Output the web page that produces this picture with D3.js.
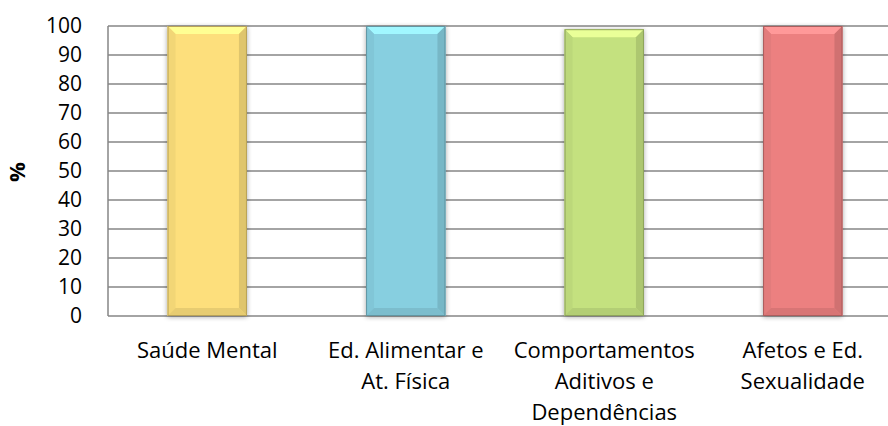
<!DOCTYPE html>
<html lang="pt">
<head>
<meta charset="utf-8">
<title>Bar chart</title>
<script src="https://d3js.org/d3.v7.min.js"></script>
<style>
  body { margin: 0; background: #fff; }
  text { font-family: "Open Sans", "Noto Sans", sans-serif; fill: #000; }
</style>
</head>
<body>
<script>
// data
var categories = ["Saúde Mental", "Ed. Alimentar e At. Física", "Comportamentos Aditivos e Dependências", "Afetos e Ed. Sexualidade"];
var labelLines = [["Saúde Mental"], ["Ed. Alimentar e", "At. Física"], ["Comportamentos", "Aditivos e", "Dependências"], ["Afetos e Ed.", "Sexualidade"]];
var values = [100, 100, 98.9, 100];
var barColors = ["#fddf7b", "#87cfe0", "#c4e17f", "#ec8080"];
var yTicks = [0, 10, 20, 30, 40, 50, 60, 70, 80, 90, 100];

var width = 888, height = 426;
var mLeft = 108, mRight = 902, mTop = 26, mBottom = 316;

var svg = d3.select("body").append("svg")
    .attr("width", width)
    .attr("height", height);

var defs = svg.append("defs");
var shadow = defs.append("filter").attr("id", "shadow")
    .attr("x", "-20%").attr("y", "-5%").attr("width", "140%").attr("height", "110%");
shadow.append("feGaussianBlur").attr("in", "SourceAlpha").attr("stdDeviation", 2.5).attr("result", "b");
shadow.append("feOffset").attr("in", "b").attr("dx", 0).attr("dy", 1).attr("result", "o");
shadow.append("feComponentTransfer").attr("in", "o").attr("result", "s")
  .append("feFuncA").attr("type", "linear").attr("slope", 0.35);
var merge = shadow.append("feMerge");
merge.append("feMergeNode").attr("in", "s");
merge.append("feMergeNode").attr("in", "SourceGraphic");

var x = d3.scaleBand().domain(categories).range([mLeft, mRight]).paddingInner(0.6).paddingOuter(0.3);
var y = d3.scaleLinear().domain([0, 100]).range([mBottom, mTop]);

// grid
svg.append("g").selectAll("line")
  .data(yTicks)
  .enter().append("line")
    .attr("x1", mLeft).attr("x2", width)
    .attr("y1", function(d) { return y(d); })
    .attr("y2", function(d) { return y(d); })
    .attr("stroke", "#868686")
    .attr("stroke-width", 1.5);

svg.append("line")
    .attr("x1", mLeft).attr("x2", mLeft)
    .attr("y1", y(100)).attr("y2", y(0))
    .attr("stroke", "#868686").attr("stroke-width", 1.5);

// y axis
var yAxis = svg.append("g")
    .attr("transform", "translate(" + mLeft + ",0)")
    .call(d3.axisLeft(y).tickValues(yTicks).tickSize(0).tickPadding(26));
yAxis.select(".domain").remove();
yAxis.selectAll("text")
    .style("font-size", "21px")
    .attr("fill", "#000");

svg.append("text")
    .attr("transform", "translate(25," + ((mTop + mBottom) / 2 + 1) + ") rotate(-90)")
    .attr("text-anchor", "middle")
    .style("font-size", "22px")
    .style("font-weight", "bold")
    .text("%");

// bars
var bev = 8;
var bars = svg.append("g").selectAll("g")
  .data(values)
  .enter().append("g")
    .attr("filter", "url(#shadow)");

bars.each(function(v, i) {
  var g = d3.select(this);
  var x0 = x(categories[i]), w = x.bandwidth();
  var y0 = y(v), y1 = y(0);
  var c = d3.color(barColors[i]);
  g.append("rect")
    .attr("x", x0).attr("y", y0).attr("width", w).attr("height", y1 - y0)
    .attr("fill", c);
  // top bevel
  g.append("path")
    .attr("d", "M" + x0 + "," + y0 + "H" + (x0 + w) + "L" + (x0 + w - bev) + "," + (y0 + bev) + "H" + (x0 + bev) + "Z")
    .attr("fill", c.brighter(0.5));
  // left side
  g.append("path")
    .attr("d", "M" + x0 + "," + y0 + "L" + (x0 + bev) + "," + (y0 + bev) + "V" + (y1 - bev) + "L" + x0 + "," + y1 + "Z")
    .attr("fill", c.darker(0.12));
  // right side
  g.append("path")
    .attr("d", "M" + (x0 + w) + "," + y0 + "L" + (x0 + w - bev) + "," + (y0 + bev) + "V" + (y1 - bev) + "L" + (x0 + w) + "," + y1 + "Z")
    .attr("fill", c.darker(0.35));
  // bottom bevel
  g.append("path")
    .attr("d", "M" + x0 + "," + y1 + "H" + (x0 + w) + "L" + (x0 + w - bev) + "," + (y1 - bev) + "H" + (x0 + bev) + "Z")
    .attr("fill", c.darker(0.25));
  g.append("rect")
    .attr("x", x0 + 0.5).attr("y", y0 + 0.5).attr("width", w - 1).attr("height", y1 - y0 - 1)
    .attr("fill", "none").attr("stroke", c.darker(0.9)).attr("stroke-width", 1);
});

// x labels
var xl = svg.append("g").selectAll("text")
  .data(categories)
  .enter().append("text")
    .attr("text-anchor", "middle")
    .style("font-size", "22px")
    .attr("x", function(d) { return x(d) + x.bandwidth() / 2; })
    .attr("y", 358);

xl.each(function(d, i) {
  var t = d3.select(this);
  labelLines[i].forEach(function(line, j) {
    t.append("tspan")
      .attr("x", x(d) + x.bandwidth() / 2)
      .attr("dy", j === 0 ? 0 : 31)
      .text(line);
  });
});
</script>
</body>
</html>
